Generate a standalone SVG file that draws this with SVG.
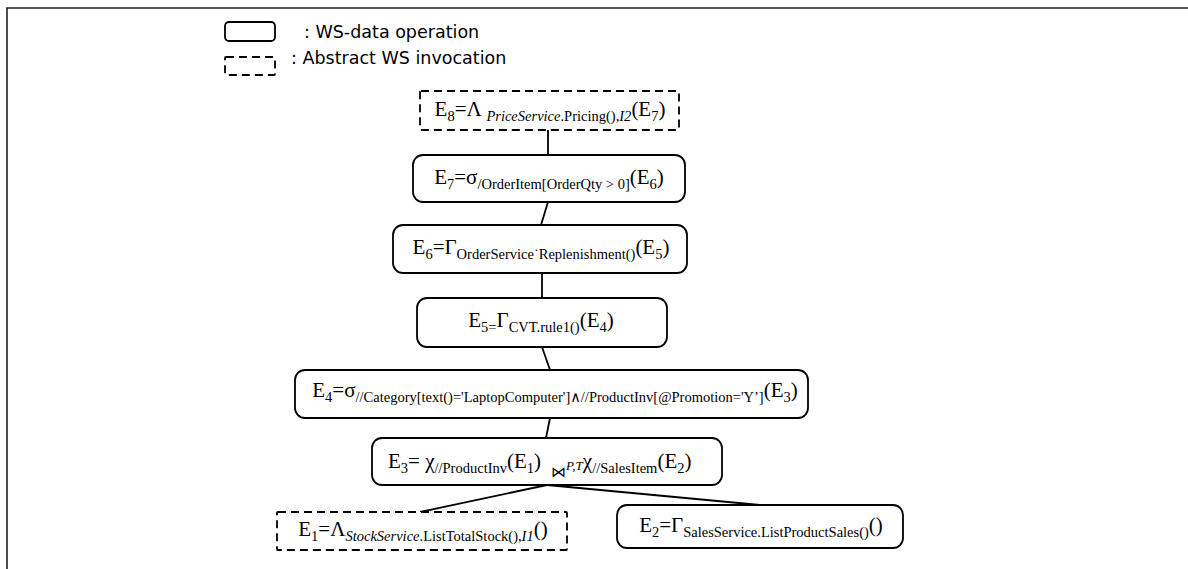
<svg xmlns="http://www.w3.org/2000/svg" width="1188" height="569" viewBox="0 0 1188 569">
  <style>
    .frame { fill: none; stroke: #222; stroke-width: 1.6; }
    .op { fill: #fff; stroke: #000; stroke-width: 1.8; }
    .inv { fill: #fff; stroke: #000; stroke-width: 1.8; stroke-dasharray: 8 5; }
    .edge { stroke: #000; stroke-width: 1.8; fill: none; }
    .legend { font-family: "DejaVu Sans", "Open Sans", sans-serif; font-size: 17.5px; fill: #000; }
    .f { font-family: "Liberation Serif", "DejaVu Serif", serif; font-size: 21px; fill: #000; }
    .s { font-size: 14.5px; }
    .i { font-style: italic; }
  </style>

  <!-- page frame -->
  <path class="frame" d="M7 569 V8 H1188"/>

  <!-- legend -->
  <g id="legend">
    <rect class="op" x="225" y="22" width="50" height="19" rx="4"/>
    <text class="legend" x="304" y="38">: WS-data operation</text>
    <rect class="inv" x="225" y="57" width="50" height="18" rx="1"/>
    <text class="legend" x="291" y="64">: Abstract WS invocation</text>
  </g>

  <!-- connectors -->
  <g id="connectors">
    <line class="edge" x1="548" y1="130" x2="548" y2="155"/>
    <line class="edge" x1="548" y1="202" x2="541" y2="225"/>
    <line class="edge" x1="542" y1="273" x2="542" y2="298"/>
    <line class="edge" x1="542" y1="347" x2="550" y2="370"/>
    <line class="edge" x1="550" y1="418" x2="546" y2="438"/>
    <line class="edge" x1="547" y1="485" x2="420" y2="512"/>
    <line class="edge" x1="547" y1="485" x2="760" y2="505"/>
  </g>

  <!-- E8 -->
  <g id="e8">
    <rect class="inv" x="420" y="91" width="259" height="39" rx="1"/>
    <text class="f" x="550" y="116" text-anchor="middle">E<tspan class="s" dy="5">8</tspan><tspan dy="-5">=Λ </tspan><tspan class="s i" dy="5">PriceService</tspan><tspan class="s">.Pricing(),</tspan><tspan class="s i">I2</tspan><tspan dy="-5">(E</tspan><tspan class="s" dy="5">7</tspan><tspan dy="-5">)</tspan></text>
  </g>

  <!-- E7 -->
  <g id="e7">
    <rect class="op" x="413" y="155" width="272" height="47" rx="10"/>
    <text class="f" x="549" y="184" text-anchor="middle">E<tspan class="s" dy="5">7</tspan><tspan dy="-5">=σ</tspan><tspan class="s" dy="5">/OrderItem[OrderQty &gt; 0]</tspan><tspan dy="-5">(E</tspan><tspan class="s" dy="5">6</tspan><tspan dy="-5">)</tspan></text>
  </g>

  <!-- E6 -->
  <g id="e6">
    <rect class="op" x="393" y="225" width="294" height="48" rx="10"/>
    <text class="f" x="541" y="254" text-anchor="middle">E<tspan class="s" dy="5">6</tspan><tspan dy="-5">=Γ</tspan><tspan class="s" dy="5">OrderService˙Replenishment()</tspan><tspan dy="-5">(E</tspan><tspan class="s" dy="5">5</tspan><tspan dy="-5">)</tspan></text>
  </g>

  <!-- E5 -->
  <g id="e5">
    <rect class="op" x="417" y="298" width="250" height="49" rx="10"/>
    <text class="f" x="541" y="327" text-anchor="middle">E<tspan class="s" dy="5">5=</tspan><tspan dy="-5">Γ</tspan><tspan class="s" dy="5">CVT.rule1()</tspan><tspan dy="-5">(E</tspan><tspan class="s" dy="5">4</tspan><tspan dy="-5">)</tspan></text>
  </g>

  <!-- E4 -->
  <g id="e4">
    <rect class="op" x="295" y="370" width="513" height="48" rx="10"/>
    <text class="f" x="555" y="397" text-anchor="middle">E<tspan class="s" dy="5">4</tspan><tspan dy="-5">=σ</tspan><tspan class="s" dy="5">//Category[text()='LaptopComputer']∧//ProductInv[@Promotion='Y’]</tspan><tspan dy="-5">(E</tspan><tspan class="s" dy="5">3</tspan><tspan dy="-5">)</tspan></text>
  </g>

  <!-- E3 -->
  <g id="e3">
    <rect class="op" x="372" y="438" width="350" height="47" rx="10"/>
    <text class="f" x="388" y="468">E<tspan class="s" dy="5">3</tspan><tspan dy="-5">= χ</tspan><tspan class="s" dy="5">//ProductInv</tspan><tspan dy="-5">(E</tspan><tspan class="s" dy="5">1</tspan><tspan dy="-5">)</tspan><tspan style="font-size:15px" dx="10" dy="9">⋈</tspan><tspan class="s i" style="font-size:13px" dy="-7">P,T</tspan><tspan dy="-2">χ</tspan><tspan class="s" dy="5">//SalesItem</tspan><tspan dy="-5">(E</tspan><tspan class="s" dy="5">2</tspan><tspan dy="-5">)</tspan></text>
  </g>

  <!-- E1 -->
  <g id="e1">
    <rect class="inv" x="277" y="512" width="290" height="38" rx="1"/>
    <text class="f" x="423" y="536" text-anchor="middle">E<tspan class="s" dy="5">1</tspan><tspan dy="-5">=Λ</tspan><tspan class="s i" dy="5">StockService</tspan><tspan class="s">.ListTotalStock(),</tspan><tspan class="s i">I1</tspan><tspan dy="-5">()</tspan></text>
  </g>

  <!-- E2 -->
  <g id="e2">
    <rect class="op" x="617" y="505" width="286" height="43" rx="10"/>
    <text class="f" x="761" y="532" text-anchor="middle">E<tspan class="s" dy="5">2</tspan><tspan dy="-5">=Γ</tspan><tspan class="s" dy="5">SalesService.ListProductSales()</tspan><tspan dy="-5">()</tspan></text>
  </g>
</svg>
